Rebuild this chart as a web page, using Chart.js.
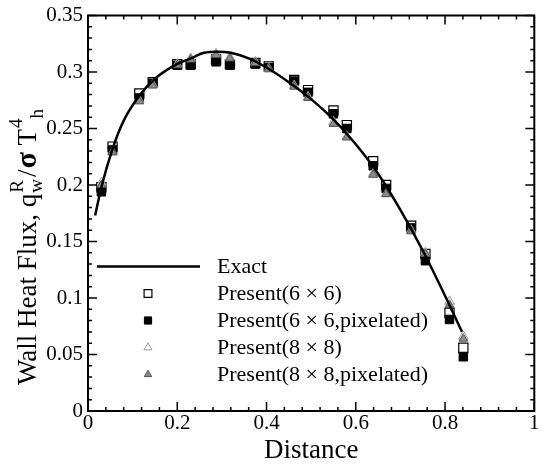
<!DOCTYPE html>
<html>
<head>
<meta charset="utf-8">
<script src="https://cdn.jsdelivr.net/npm/chart.js@4.4.0/dist/chart.umd.min.js"></script>
<style>
  html, body { margin: 0; padding: 0; background: #fff; }
  #wrap { width: 542px; height: 464px; }
</style>
</head>
<body>
<div id="wrap"><canvas id="c" width="542" height="464"></canvas></div>
<script>
// exact solution
const xExact = [0.016, 0.03, 0.055, 0.08, 0.115, 0.15, 0.19, 0.23, 0.26, 0.29, 0.32, 0.36, 0.4, 0.45, 0.5, 0.55, 0.6, 0.65, 0.7, 0.75, 0.8, 0.838];
const yExact = [0.173, 0.198, 0.232, 0.257, 0.279, 0.294, 0.305, 0.312, 0.317, 0.318, 0.317, 0.312, 0.304, 0.291, 0.276, 0.258, 0.236, 0.210, 0.178, 0.142, 0.102, 0.070];

// wall positions of the computed values
const xPoints = [0.03, 0.055, 0.115, 0.145, 0.2, 0.23, 0.287, 0.318, 0.375, 0.405, 0.462, 0.493, 0.55, 0.58, 0.639, 0.668, 0.724, 0.756, 0.81, 0.841];
const yOpenSquare = [0.198, 0.234, 0.281, 0.291, 0.307, 0.307, 0.311, 0.307, 0.308, 0.305, 0.293, 0.284, 0.266, 0.253, 0.221, 0.200, 0.164, 0.139, 0.087, 0.056];
const yFillSquare = [0.194, 0.231, 0.277, 0.290, 0.306, 0.306, 0.309, 0.306, 0.307, 0.304, 0.292, 0.282, 0.263, 0.250, 0.217, 0.197, 0.162, 0.133, 0.081, 0.048];
const yOpenTri = [0.202, 0.229, 0.275, 0.289, 0.307, 0.312, 0.316, 0.313, 0.309, 0.303, 0.288, 0.278, 0.256, 0.243, 0.210, 0.192, 0.160, 0.140, 0.097, 0.066];
const yFillTri = [0.200, 0.229, 0.274, 0.288, 0.306, 0.311, 0.315, 0.312, 0.308, 0.303, 0.287, 0.277, 0.254, 0.242, 0.209, 0.192, 0.159, 0.139, 0.094, 0.064];

const labels = ['Exact', 'Present(6 \u00d7 6)', 'Present(6 \u00d7 6,pixelated)', 'Present(8 \u00d7 8)', 'Present(8 \u00d7 8,pixelated)'];

const xTicks = [0, 0.2, 0.4, 0.6, 0.8, 1];
const yTicks = [0, 0.05, 0.1, 0.15, 0.2, 0.25, 0.3, 0.35];
const minorPerMajor = 5;

const SERIF = '"Liberation Serif", "Times New Roman", serif';

const toXY = (xs, ys) => xs.map((x, i) => ({ x: x, y: ys[i] }));

// inward ticks on all four sides + frame
const framePlugin = {
  id: 'frame',
  afterDatasetsDraw(chart) {
    const { ctx, chartArea: a, scales } = chart;
    ctx.save();
    ctx.strokeStyle = '#000';
    ctx.lineWidth = 1.5;
    const drawTicks = (scale, ticks, horizontal) => {
      for (let k = 0; k < ticks.length; k++) {
        const v0 = ticks[k];
        const v1 = ticks[k + 1];
        const steps = k < ticks.length - 1 ? minorPerMajor : 1;
        for (let m = 0; m < steps; m++) {
          const v = m === 0 ? v0 : v0 + (v1 - v0) * m / minorPerMajor;
          const len = m === 0 ? 9 : 4;
          const p = scale.getPixelForValue(v);
          ctx.beginPath();
          if (horizontal) {
            ctx.moveTo(p, a.bottom); ctx.lineTo(p, a.bottom - len);
            ctx.moveTo(p, a.top); ctx.lineTo(p, a.top + len);
          } else {
            ctx.moveTo(a.left, p); ctx.lineTo(a.left + len, p);
            ctx.moveTo(a.right, p); ctx.lineTo(a.right - len, p);
          }
          ctx.stroke();
        }
      }
    };
    drawTicks(scales.x, xTicks, true);
    drawTicks(scales.y, yTicks, false);
    ctx.lineWidth = 2;
    ctx.strokeRect(a.left, a.top, a.right - a.left, a.bottom - a.top);
    ctx.restore();
  }
};

// legend inside the plot area
const legendPlugin = {
  id: 'innerLegend',
  afterDraw(chart) {
    const { ctx, chartArea: a } = chart;
    const x0 = a.left + 9, x1 = a.left + 112, xm = a.left + 60, xt = a.left + 129;
    let y = a.top + 251;
    ctx.save();
    ctx.font = '22px ' + SERIF;
    ctx.textBaseline = 'middle';
    ctx.fillStyle = '#000';
    chart.data.datasets.forEach((ds) => {
      if (ds.showLine) {
        ctx.strokeStyle = ds.borderColor;
        ctx.lineWidth = ds.borderWidth;
        ctx.beginPath(); ctx.moveTo(x0, y); ctx.lineTo(x1, y); ctx.stroke();
      } else {
        ctx.fillStyle = ds.backgroundColor;
        ctx.strokeStyle = ds.borderColor;
        ctx.lineWidth = ds.borderWidth;
        Chart.helpers.drawPoint(ctx, { pointStyle: ds.pointStyle, radius: ds.pointRadius * 0.85, rotation: 0, borderWidth: ds.borderWidth }, xm, y);
      }
      ctx.fillStyle = '#000';
      ctx.fillText(ds.label, xt, y + 1);
      y += 27;
    });
    ctx.restore();
  }
};

// rotated y-axis title with sub/superscripts, written upward from the bottom
const yTitlePlugin = {
  id: 'yTitle',
  afterDraw(chart) {
    const { ctx } = chart;
    const big = '27px ' + SERIF, small = '19px ' + SERIF, sigma = 'bold 30px ' + SERIF;
    const parts = [
      { t: 'Wall Heat Flux, q', f: big, dy: 0, gap: 1 },
      { stack: [{ t: 'R', f: small, dy: -13 }, { t: 'w', f: small, dy: 6 }], gap: 2 },
      { t: '/', f: big, dy: 0, gap: 1 },
      { t: '\u03c3', f: sigma, dy: 0, gap: 0 },
      { t: ' T', f: big, dy: 0, gap: 1 },
      { t: '4', f: small, dy: -14, gap: 0 },
      { t: 'h', f: small, dy: 7, gap: 0 }
    ];
    ctx.save();
    const widthOf = (p) => {
      if (p.stack) return Math.max(...p.stack.map(s => { ctx.font = s.f; return ctx.measureText(s.t).width; }));
      ctx.font = p.f; return ctx.measureText(p.t).width;
    };
    ctx.translate(36, 385);
    ctx.rotate(-Math.PI / 2);
    ctx.textBaseline = 'alphabetic';
    ctx.fillStyle = '#000';
    let x = 0;
    parts.forEach(p => {
      const items = p.stack ? p.stack : [p];
      items.forEach(s => { ctx.font = s.f; ctx.fillText(s.t, x, s.dy); });
      x += widthOf(p) + p.gap;
    });
    ctx.restore();
  }
};

new Chart(document.getElementById('c'), {
  type: 'scatter',
  data: {
    datasets: [
      { label: labels[0], data: toXY(xExact, yExact), showLine: true, borderColor: '#000', borderWidth: 2.5, pointRadius: 0, cubicInterpolationMode: 'monotone', order: 0 },
      { label: labels[1], data: toXY(xPoints, yOpenSquare), pointStyle: 'rect', pointRadius: 6.5, backgroundColor: '#fff', borderColor: '#000', borderWidth: 1.2, order: 4 },
      { label: labels[2], data: toXY(xPoints, yFillSquare), pointStyle: 'rect', pointRadius: 6, backgroundColor: '#000', borderColor: '#000', borderWidth: 1, order: 3 },
      { label: labels[3], data: toXY(xPoints, yOpenTri), pointStyle: 'triangle', pointRadius: 5.5, backgroundColor: 'rgba(255,255,255,0.6)', borderColor: '#999', borderWidth: 1, order: 2 },
      { label: labels[4], data: toXY(xPoints, yFillTri), pointStyle: 'triangle', pointRadius: 5, backgroundColor: '#8a8a8a', borderColor: '#555', borderWidth: 1, order: 1 }
    ]
  },
  options: {
    responsive: false,
    animation: false,
    layout: { padding: { top: 14, right: 5, left: 0, bottom: 0 } },
    plugins: { legend: { display: false }, tooltip: { enabled: false } },
    scales: {
      x: {
        type: 'linear', min: 0, max: 1,
        afterBuildTicks: (s) => { s.ticks = xTicks.map(v => ({ value: v })); },
        afterFit: (s) => { s.height = 53; },
        grid: { display: false, drawTicks: false },
        border: { display: false },
        ticks: { padding: 2, color: '#000', font: { family: SERIF, size: 21, lineHeight: 1 }, callback: (v) => String(v) },
        title: { display: true, text: 'Distance', color: '#000', padding: 0, font: { family: SERIF, size: 27, lineHeight: 1 } }
      },
      y: {
        type: 'linear', min: 0, max: 0.35,
        afterBuildTicks: (s) => { s.ticks = yTicks.map(v => ({ value: v })); },
        afterFit: (s) => { s.width = 88; },
        grid: { display: false, drawTicks: false },
        border: { display: false },
        ticks: { padding: 5, color: '#000', font: { family: SERIF, size: 21, lineHeight: 1 }, callback: (v) => String(v) }
      }
    }
  },
  plugins: [framePlugin, legendPlugin, yTitlePlugin]
});
</script>
</body>
</html>
